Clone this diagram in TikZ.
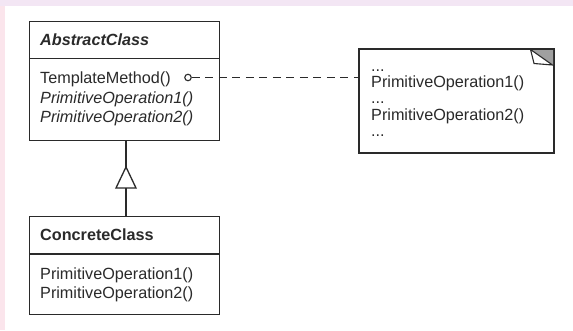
\documentclass[tikz,border=0pt]{standalone}
\usepackage{fontspec}
\setmainfont{Liberation Sans}
\usetikzlibrary{calc}
\definecolor{topbg}{HTML}{F3E6F4}
\definecolor{leftbg}{HTML}{FBE5EC}
\definecolor{ink}{HTML}{2A2A2A}
\definecolor{earfill}{HTML}{A0A0A0}
\begin{document}
\begin{tikzpicture}[x=1pt,y=-1pt,
  box/.style={draw=ink, line width=1.3pt, rectangle, inner sep=0pt, anchor=north west, fill=white},
  txt/.style={anchor=base west, inner sep=0pt, text=ink, font=\fontsize{16.2}{18}\selectfont},
  rule/.style={draw=ink, line width=1.3pt},
  conn/.style={draw=ink, line width=1.3pt}
]
\useasboundingbox (0,0) rectangle (573,330);
\fill[white] (0,0) rectangle (573,330);
\fill[topbg] (0,0) rectangle (573,6);
\fill[leftbg] (0,6) rectangle (5,330);

% Abstract class
\node[box, minimum width=190pt, minimum height=119pt] (abs) at (29,21) {};
\draw[rule] ($(abs.north west)+(0,37.5)$) coordinate (absdl) -- (absdl -| abs.east);
\node[txt, font=\fontsize{16.2}{18}\selectfont\bfseries\itshape] (absname) at (40,45) {AbstractClass};
\node[txt] (absm1) at (40,83.5) {TemplateMethod()};
\node[txt, font=\fontsize{16.2}{18}\selectfont\itshape] (absm2) at (40,103) {PrimitiveOperation1()};
\node[txt, font=\fontsize{16.2}{18}\selectfont\itshape] (absm3) at (40,122) {PrimitiveOperation2()};

% Concrete class
\node[box, minimum width=190pt, minimum height=98pt] (conc) at (29,216) {};
\draw[rule] ($(conc.north west)+(0,38)$) coordinate (concdl) -- (concdl -| conc.east);
\node[txt, font=\fontsize{16.2}{18}\selectfont\bfseries] (concname) at (40,240.5) {ConcreteClass};
\node[txt] (concm1) at (40,279) {PrimitiveOperation1()};
\node[txt] (concm2) at (40,298.5) {PrimitiveOperation2()};

% Note
\node[box, minimum width=194pt, minimum height=103pt] (note) at (359,49) {};
\fill[earfill] (530,49) -- (553,49) -- (553,65) -- cycle;
\draw[ink, line width=1.1pt, line join=miter, fill=white] (530.5,49.5) -- (534,63.5) -- (552.5,65) -- cycle;
\draw[rule] (note.north west) rectangle (note.south east);
\node[txt] (n1) at (371,71) {...};
\node[txt] (n2) at (371,87) {PrimitiveOperation1()};
\node[txt] (n3) at (371,103) {...};
\node[txt] (n4) at (371,120.5) {PrimitiveOperation2()};
\node[txt] (n5) at (371,136) {...};

% Template method connector
\node[circle, draw=ink, line width=1.1pt, fill=white, minimum size=6.5pt, inner sep=0pt] (circ) at (188,77.5) {};
\draw[conn, dash pattern=on 8pt off 5.5pt] (circ.east) -- (circ.east -| note.west);

% Inheritance
\coordinate (tip) at (126,167);
\coordinate (tribase) at (126,188);
\draw[conn] (abs.south -| tip) -- (tip);
\draw[conn, line join=miter, fill=white] (tip) -- ($(tribase)+(-10,0)$) -- ($(tribase)+(10,0)$) -- cycle;
\draw[conn] (tribase) -- (tribase |- conc.north);
\end{tikzpicture}
\end{document}
